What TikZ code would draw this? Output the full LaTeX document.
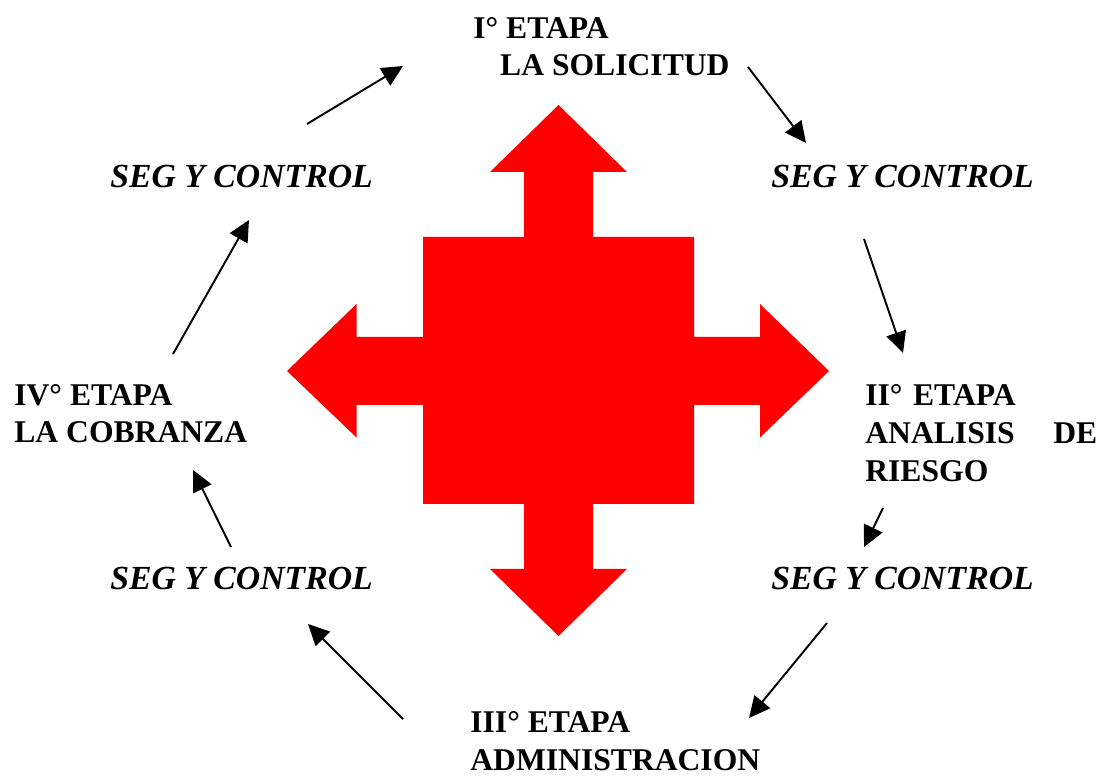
\documentclass[tikz,border=0pt]{standalone}
\usepackage{fontspec}
\setmainfont{Liberation Serif}
\usetikzlibrary{arrows.meta, positioning}
\usepackage{xcolor}
\definecolor{crossRed}{RGB}{255, 0, 0}

\begin{document}
\begin{tikzpicture}[
    x=0.02cm, y=-0.02cm,
    etapa/.style={anchor=base west, inner sep=0pt, align=left, font=\fontsize{18}{21.5}\selectfont\bfseries},
    seg/.style={anchor=base west, inner sep=0pt, font=\fontsize{19.2}{22}\selectfont\bfseries\itshape},
    arrow/.style={-{Triangle[length=12pt, width=11.5pt]}, line width=1.1pt, black}
]
\useasboundingbox (0,0) rectangle (1099,776);

% red cross in the middle
\fill[crossRed] (558.5,105) -- (627,172) -- (593,172) -- (593,237) -- (694,237) -- (694,337)
  -- (760,337) -- (760,304) -- (829,371) -- (760,437.5) -- (760,405) -- (694,405) -- (694,504)
  -- (593,504) -- (593,569) -- (627,569) -- (558.5,636) -- (490,569) -- (524,569) -- (524,504)
  -- (423,504) -- (423,405) -- (356.5,405) -- (356.5,437.5) -- (287,371) -- (356.5,304)
  -- (356.5,337) -- (423,337) -- (423,237) -- (524,237) -- (524,172) -- (490,172) -- cycle;

% stages
\node[etapa] (etapa1) at (473, 76) {I° ETAPA\\\hspace*{0.85em}LA SOLICITUD};
\node[etapa, text width=4.64cm] (etapa2) at (865, 406) {II° ETAPA\\ANALISIS\hfill DE\\RIESGO};
\node[etapa] (etapa3) at (470, 770) {III° ETAPA\\ADMINISTRACION};
\node[etapa] (etapa4) at (14, 443) {IV° ETAPA\\LA COBRANZA};

% follow-up and control
\node[seg] (segA) at (771, 188) {SEG Y CONTROL};
\node[seg] (segB) at (771, 590) {SEG Y CONTROL};
\node[seg] (segC) at (110, 590) {SEG Y CONTROL};
\node[seg] (segD) at (110, 188) {SEG Y CONTROL};

% arrow ends
\coordinate (segDout) at (307,124);   \coordinate (etapa1in) at (403,66);
\coordinate (etapa1out) at (748,67);  \coordinate (segAin) at (806,143);
\coordinate (segAout) at (864,239);   \coordinate (etapa2in) at (903,353);
\coordinate (etapa2out) at (883,508); \coordinate (segBin) at (864,547);
\coordinate (segBout) at (827,623);   \coordinate (etapa3in) at (749,718);
\coordinate (etapa3out) at (403,719); \coordinate (segCin) at (308,624);
\coordinate (segCout) at (231,547);   \coordinate (etapa4in) at (193,470);
\coordinate (etapa4out) at (173,354); \coordinate (segDin) at (249,220);

% cycle
\draw[arrow] (segDout) -- (etapa1in);
\draw[arrow] (etapa1out) -- (segAin);
\draw[arrow] (segAout) -- (etapa2in);
\draw[arrow] (etapa2out) -- (segBin);
\draw[arrow] (segBout) -- (etapa3in);
\draw[arrow] (etapa3out) -- (segCin);
\draw[arrow] (segCout) -- (etapa4in);
\draw[arrow] (etapa4out) -- (segDin);

\end{tikzpicture}
\end{document}
